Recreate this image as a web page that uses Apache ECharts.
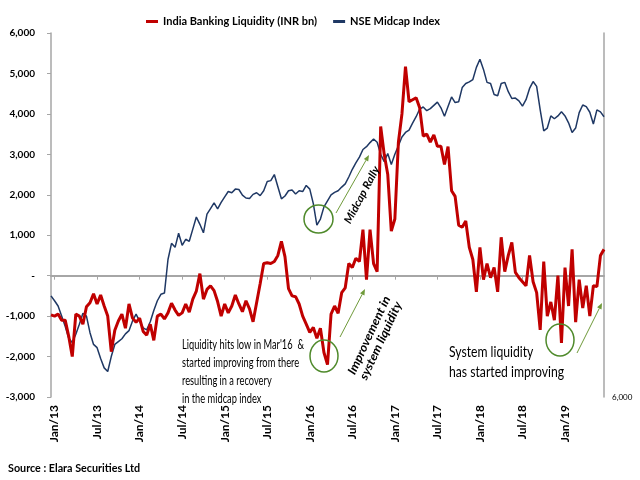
<!DOCTYPE html>
<html>
<head>
<meta charset="utf-8">
<script src="https://cdn.jsdelivr.net/npm/echarts@6/dist/echarts.min.js"></script>
<style>
html,body{margin:0;padding:0;background:#fff;}
#c{width:640px;height:480px;}
</style>
</head>
<body>
<div id="c"></div>
<script>
// ---- Data (semi-monthly observations, Dec-2012 H2 .. Jun-2019 H2) ----
const monthNames = ['Jan','Feb','Mar','Apr','May','Jun','Jul','Aug','Sep','Oct','Nov','Dec'];
const tickLabels = ['Jan/13','Jul/13','Jan/14','Jul/14','Jan/15','Jul/15','Jan/16','Jul/16','Jan/17','Jul/17','Jan/18','Jul/18','Jan/19'];

// India Banking Liquidity (INR bn) – left axis
const liquidity = [
 -970,-1000,-950,-1100,-1100,-1500,-2000,-950,-1000,-1200,
 -770,-670,-450,-700,-480,-750,-1000,-1880,-1350,-1120,
 -950,-1300,-700,-1050,-1150,-1050,-1380,-1470,-1200,-1600,
 -1000,-950,-1070,-920,-680,-850,-980,-920,-700,-900,
 -580,-380,50,-580,-340,-250,-370,-640,-1000,-700,
 -920,-750,-480,-700,-890,-620,-820,-1140,-670,-200,
 300,320,300,350,500,850,470,-320,-500,-520,
 -700,-1000,-1200,-1400,-1280,-1550,-1300,-1900,-2200,-950,
 -750,-930,-420,-300,300,200,430,350,1140,-100,
 1140,300,100,3690,3000,2500,1100,1400,3300,4000,
 5170,4300,4350,4400,4150,3450,3500,3300,3480,3200,
 3200,2750,3190,2100,1960,1250,1200,1350,700,400,
 -400,700,-100,300,-50,200,-400,950,100,500,
 820,80,-50,-150,-250,500,-150,-420,-1340,350,
 -1000,-650,-1100,0,-1660,200,-750,650,-1150,-100,
 -800,-250,-1000,-250,-270,500,650
];

// NSE Midcap Index – right axis
const midcap = [
 11000,10760,10500,10000,9500,8900,8700,9100,9600,10140,
 10000,9180,8600,8440,7900,7440,7260,8000,8600,8740,
 8880,9120,9280,9760,10100,9740,9420,9320,9720,10280,
 10760,11080,11140,12800,13600,13400,14100,13500,13800,13700,
 14300,14900,14540,14120,15040,15320,15600,15300,15620,15900,
 16160,16100,16280,16260,15980,15840,15820,16020,16100,15960,
 16200,16660,16700,17000,16400,15800,15940,16200,16240,16040,
 16200,16160,16460,16280,15560,14500,14800,15400,15700,16000,
 16120,16200,16380,16540,16880,17260,17580,17860,18240,18380,
 18580,18760,18600,18000,17640,18040,17500,18000,18420,18860,
 19080,19200,19540,19860,20240,20340,20160,20260,20420,20580,
 20300,19880,20360,20840,20560,20600,21300,21500,21580,21700,
 22300,22700,22200,21560,21500,20960,20900,21500,21560,21100,
 20760,20780,20640,20380,20700,21260,21600,21360,20200,19160,
 19300,19900,19760,19900,20100,19900,19560,19080,19300,20060,
 20440,20360,20080,19500,20200,20100,19860
];

// period categories: index 0 = Dec-12 (2nd half), then 1st/2nd half of each month
const periods = liquidity.map((_, k) => {
  const m = Math.floor((k - 1) / 2);
  const d = new Date(2013, m, 1);
  return monthNames[d.getMonth()] + '/' + String(d.getFullYear()).slice(2) + (k % 2 === 1 ? ' H1' : ' H2');
});
const isTick = (idx) => idx % 12 === 1;

const FONT = "Lato, 'Open Sans', sans-serif";
const chart = echarts.init(document.getElementById('c'), null, {renderer: 'canvas'});

const mctx = document.createElement('canvas').getContext('2d');
function fitScale(text, font, target) {
  mctx.font = font;
  const w = Math.max(...text.split('\n').map(l => mctx.measureText(l).width));
  return w > 0 ? target / w : 1;
}
function label(text, font, x, y, target, opts) {
  opts = opts || {};
  const s = fitScale(text, font, target);
  return {type: 'text', x, y, rotation: opts.rotation || 0, scaleX: s, z: 60,
    style: {text, font, fill: '#000', lineHeight: opts.lineHeight,
      textAlign: opts.align || 'left', textVerticalAlign: opts.valign || 'top'}};
}
function arrow(x1, y1, x2, y2, color) {
  const a = Math.atan2(y2 - y1, x2 - x1), L = 6, W = 2.5;
  const bx = x2 - L * Math.cos(a), by = y2 - L * Math.sin(a);
  const px = -Math.sin(a) * W, py = Math.cos(a) * W;
  return [
    {type: 'line', shape: {x1, y1, x2: bx, y2: by}, style: {stroke: color, lineWidth: 1}, z: 50},
    {type: 'polygon', shape: {points: [[x2, y2], [bx + px, by + py], [bx - px, by - py]]}, style: {fill: color}, z: 50}
  ];
}
const GREEN = '#4f8a2b', AGREEN = '#6f9a3a';

chart.setOption({
  animation: false,
  backgroundColor: '#ffffff',
  textStyle: {fontFamily: FONT},
  legend: {
    top: 11, left: 141, itemGap: 16, itemWidth: 12, itemHeight: 3,
    textStyle: {fontFamily: FONT, fontSize: 11, fontWeight: 'bold', color: '#000'},
    data: [{name: 'India Banking Liquidity (INR bn)', icon: 'rect'}, {name: 'NSE Midcap Index', icon: 'rect'}]
  },
  grid: {left: 51, right: 36, top: 33, bottom: 83, containLabel: false},
  xAxis: [{
    type: 'category', data: periods, boundaryGap: false, position: 'bottom',
    axisLine: {show: true, onZero: true, onZeroAxisIndex: 0, lineStyle: {color: '#a6a6a6', width: 2}},
    axisTick: {show: true, length: 4, interval: (i) => isTick(i), lineStyle: {color: '#a6a6a6'}},
    axisLabel: {show: false}, splitLine: {show: false}
  }, {
    type: 'category', data: periods, boundaryGap: false, position: 'bottom',
    axisLine: {show: false, onZero: false}, axisTick: {show: false},
    axisLabel: {
      show: true, rotate: 90, margin: 8, interval: (i) => isTick(i),
      fontFamily: FONT, fontSize: 12, fontWeight: 'bold', color: '#000',
      formatter: (v, i) => tickLabels[(i - 1) / 12] || v.split(' ')[0]
    },
    splitLine: {show: false}
  }],
  yAxis: [{
    type: 'value', min: -3000, max: 6000, interval: 1000, position: 'left',
    axisLine: {show: true, lineStyle: {color: '#a6a6a6', width: 1.5}},
    axisTick: {show: true, length: 4, lineStyle: {color: '#a6a6a6'}},
    axisLabel: {margin: 16, fontFamily: FONT, fontSize: 10, fontWeight: 'bold', color: '#000',
      formatter: (v) => v === 0 ? '-' : v.toLocaleString('en-US')},
    splitLine: {show: false}
  }, {
    type: 'value', min: 6000, max: 24000, interval: 6000, position: 'right',
    axisLine: {show: true, lineStyle: {color: '#a6a6a6', width: 1.5}},
    axisTick: {show: false},
    axisLabel: {margin: 8, fontFamily: FONT, fontSize: 8, color: '#000',
      formatter: (v) => v === 6000 ? '6,000' : ''},
    splitLine: {show: false}
  }],
  series: [{
    name: 'India Banking Liquidity (INR bn)', type: 'line', data: liquidity,
    xAxisIndex: 0, yAxisIndex: 0, showSymbol: false, symbol: 'none', z: 4,
    lineStyle: {color: '#c00000', width: 3}, itemStyle: {color: '#c00000'}
  }, {
    name: 'NSE Midcap Index', type: 'line', data: midcap,
    xAxisIndex: 0, yAxisIndex: 1, showSymbol: false, symbol: 'none', z: 3,
    lineStyle: {color: '#1f3864', width: 1.5}, itemStyle: {color: '#1f3864'}
  }],
  graphic: [
    {type: 'ellipse', shape: {cx: 318.5, cy: 219, rx: 14.5, ry: 14}, style: {fill: 'none', stroke: GREEN, lineWidth: 1.5}, z: 50},
    {type: 'ellipse', shape: {cx: 324, cy: 356, rx: 14, ry: 16}, style: {fill: 'none', stroke: GREEN, lineWidth: 1.5}, z: 50},
    {type: 'ellipse', shape: {cx: 560, cy: 340, rx: 14, ry: 16}, style: {fill: 'none', stroke: GREEN, lineWidth: 1.5}, z: 50},
    ...arrow(336, 213, 369, 155, AGREEN),
    ...arrow(340, 337, 365, 289, AGREEN),
    ...arrow(577, 353, 602, 303, AGREEN),
    label('Midcap Rally', "italic bold 11px " + FONT, 362, 195, 63, {rotation: 62 * Math.PI / 180, align: 'center', valign: 'middle'}),
    label('Improvement in\nsystem liquidity', "italic bold 12px " + FONT, 375, 338, 85, {rotation: 65 * Math.PI / 180, align: 'center', valign: 'middle', lineHeight: 13}),
    label("Liquidity hits low in Mar'16  &\nstarted improving from there\nresulting in a recovery\nin the midcap index", "13px " + FONT, 182, 336, 122, {lineHeight: 18}),
    label('System liquidity\nhas started improving', "16px " + FONT, 449, 342, 115, {lineHeight: 20}),
    label('Source : Elara Securities Ltd', "bold 12px " + FONT, 8, 462, 132)
  ]
});
</script>
</body>
</html>
